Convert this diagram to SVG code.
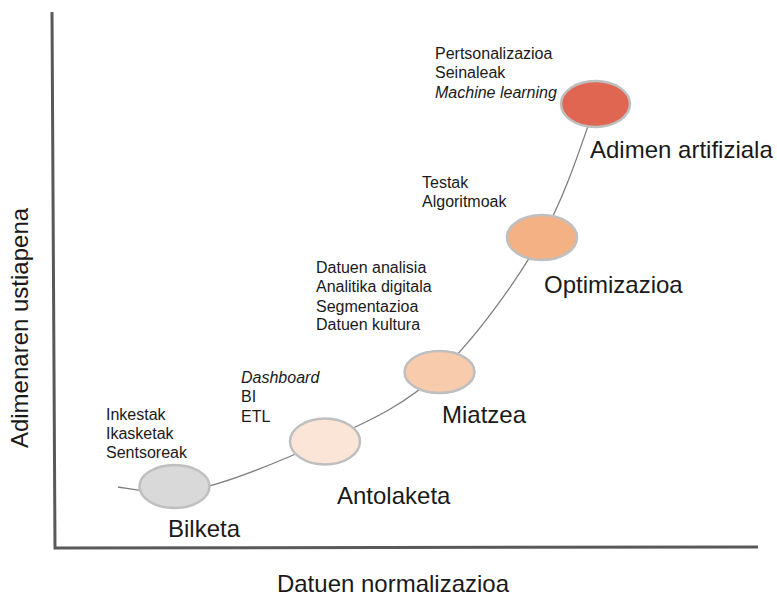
<svg xmlns="http://www.w3.org/2000/svg" width="777" height="596" viewBox="0 0 777 596">
<style>
text{font-family:"Liberation Sans",Arial,sans-serif;fill:#1a1a1a}
.s{font-size:16px}
.b{font-size:24px}
.i{font-style:italic}
.node{stroke:#bfbfbf;stroke-width:2.5}
.axis{stroke:#595959;stroke-width:3;fill:none}
.curve{stroke:#7f7f7f;stroke-width:1.3;fill:none}
</style>
<rect width="777" height="596" fill="#fff"/>
<g id="axes">
<path class="axis" d="M52,12 L55,548 L758,547"/>
<text class="b" x="393" y="592" text-anchor="middle">Datuen normalizazioa</text>
<text class="b" text-anchor="middle" transform="translate(28,328) rotate(-90)">Adimenaren ustiapena</text>
</g>
<g id="connectors">
<path class="curve" d="M118,487 C127,488 140,492 174,492 C208,492 281,461 325,441 C369,421 404,406 440,372 C476,338 516,282 542,237 C568,192 587,126 596,104"/>
</g>
<g id="bilketa">
<ellipse class="node" cx="174.5" cy="486.5" rx="35" ry="21.5" fill="#d9d9d9"/>
<text class="b" x="168" y="537">Bilketa</text>
<text class="s" x="106" y="420">Inkestak</text>
<text class="s" x="106" y="439">Ikasketak</text>
<text class="s" x="106" y="458">Sentsoreak</text>
</g>
<g id="antolaketa">
<ellipse class="node" cx="325" cy="441.5" rx="35" ry="23" fill="#fbe5d6"/>
<text class="b" x="337" y="504">Antolaketa</text>
<text class="s i" x="241" y="383">Dashboard</text>
<text class="s" x="241" y="402">BI</text>
<text class="s" x="241" y="422">ETL</text>
</g>
<g id="miatzea">
<ellipse class="node" cx="439.5" cy="372" rx="35" ry="21" fill="#f8cbad"/>
<text class="b" x="442" y="423">Miatzea</text>
<text class="s" x="316" y="273">Datuen analisia</text>
<text class="s" x="316" y="292">Analitika digitala</text>
<text class="s" x="316" y="312">Segmentazioa</text>
<text class="s" x="316" y="330">Datuen kultura</text>
</g>
<g id="optimizazioa">
<ellipse class="node" cx="542" cy="237.5" rx="35" ry="22.5" fill="#f4b183"/>
<text class="b" x="544" y="293">Optimizazioa</text>
<text class="s" x="422" y="188">Testak</text>
<text class="s" x="422" y="207">Algoritmoak</text>
</g>
<g id="adimen-artifiziala">
<ellipse class="node" cx="595.5" cy="104" rx="34.5" ry="23" fill="#e06651"/>
<text class="b" x="590" y="158">Adimen artifiziala</text>
<text class="s" x="435" y="59">Pertsonalizazioa</text>
<text class="s" x="435" y="78">Seinaleak</text>
<text class="s i" x="435" y="98">Machine learning</text>
</g>
</svg>
